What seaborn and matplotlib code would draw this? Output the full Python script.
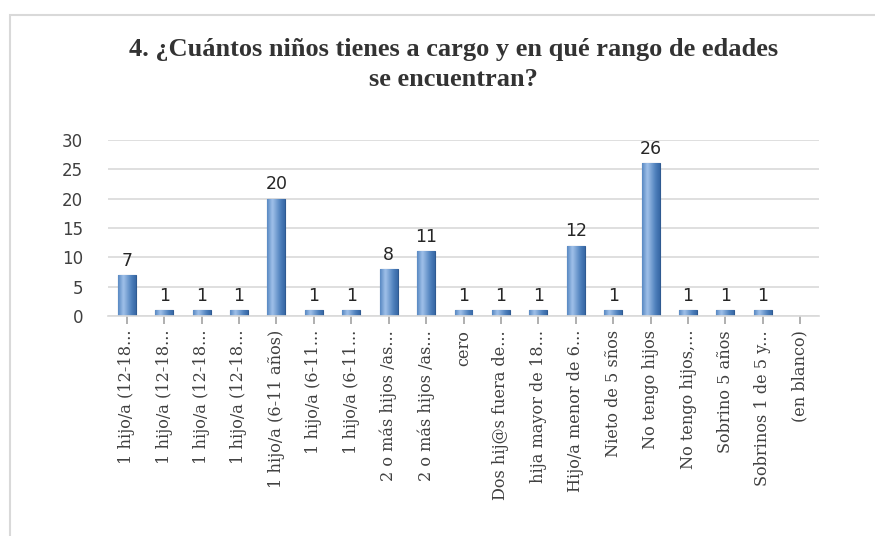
import numpy as np
import pandas as pd
import matplotlib
matplotlib.use("Agg")
import matplotlib.pyplot as plt
from matplotlib.patches import Rectangle
import seaborn as sns

categories = [
    "1 hijo/a (12-18...", "1 hijo/a (12-18...", "1 hijo/a (12-18...", "1 hijo/a (12-18...",
    "1 hijo/a (6-11 años)", "1 hijo/a (6-11...", "1 hijo/a (6-11...",
    "2 o más hijos /as...", "2 o más hijos /as...", "cero", "Dos hij@s fuera de...",
    "hija mayor de 18...", "Hijo/a menor de 6...", "Nieto de 5 sños", "No tengo hijos",
    "No tengo hijos,...", "Sobrino 5 años", "Sobrinos 1 de 5 y...", "(en blanco)",
]
values = [7, 1, 1, 1, 20, 1, 1, 8, 11, 1, 1, 1, 12, 1, 26, 1, 1, 1, np.nan]
y_ticks = [0, 5, 10, 15, 20, 25, 30]
title = "4. ¿Cuántos niños tienes a cargo y en qué rango de edades\nse encuentran?"

df = pd.DataFrame({"idx": list(range(len(categories))), "value": values})

sns.set_theme(style="white")
plt.rcParams["font.family"] = ["DejaVu Sans"]

fig = plt.figure(figsize=(8.75, 5.36), dpi=100)
fig.patch.set_facecolor("white")
# outer light frame
fig.add_artist(Rectangle((10 / 875, -0.01), 1.0, 1 - 15 / 536 + 0.01,
                         transform=fig.transFigure, fill=False,
                         edgecolor="#D9D9D9", linewidth=1.5))

ax = fig.add_axes([108 / 875, 1 - 316 / 536, (819 - 108) / 875, (316 - 140) / 536])
sns.barplot(data=df, x="idx", y="value", color="#4F81BD", width=0.48,
            edgecolor="#2F5A91", linewidth=0.8, ax=ax, saturation=1)

# cylinder-like shading on each bar
grad = np.linspace(0, 1, 64)
shade = np.interp(grad, [0, 0.3, 1], [0.55, 0.95, 0.25])
cmap = matplotlib.colors.LinearSegmentedColormap.from_list(
    "cyl", ["#1F4E8C", "#4F81BD", "#A9C8EE"])
for p in ax.patches:
    h = p.get_height()
    if not np.isfinite(h) or h <= 0:
        continue
    x0 = p.get_x()
    w = p.get_width()
    im = ax.imshow(shade[np.newaxis, :], cmap=cmap, vmin=0, vmax=1, aspect="auto",
                   extent=(x0, x0 + w, 0, h), zorder=p.get_zorder() + 0.1,
                   interpolation="bicubic")
    im.set_clip_path(p)

for i, v in enumerate(values):
    if np.isfinite(v):
        ax.text(i, v + 0.9, f"{int(v)}", ha="center", va="bottom",
                fontsize=12.5, color="#262626")

ax.set_xlim(-0.5, len(categories) - 0.5)
ax.set_ylim(0, 30)
ax.set_yticks(y_ticks)
ax.set_yticklabels([str(t) for t in y_ticks], fontsize=12, color="#404040")
ax.set_xticks(range(len(categories)))
ax.set_xticklabels(categories, rotation=90, fontsize=11.6, color="#404040",
                   family="DejaVu Serif", va="top", ha="center")
ax.set_xlabel("")
ax.set_ylabel("")
ax.yaxis.grid(True, color="#D9D9D9", linewidth=1.2)
ax.set_axisbelow(True)
for s in ["top", "right", "left"]:
    ax.spines[s].set_visible(False)
ax.spines["bottom"].set_color("#D9D9D9")
ax.spines["bottom"].set_linewidth(1.2)
ax.tick_params(axis="x", length=6, color="#A6A6A6", pad=4, bottom=True)
ax.tick_params(axis="y", length=0, pad=18)

fig.text(0.518, 1 - 38 / 536, title, ha="center", va="top",
         fontsize=19, fontweight="bold", family="Liberation Serif",
         color="#333333", linespacing=1.4)

fig.savefig("out.png", dpi=100)
